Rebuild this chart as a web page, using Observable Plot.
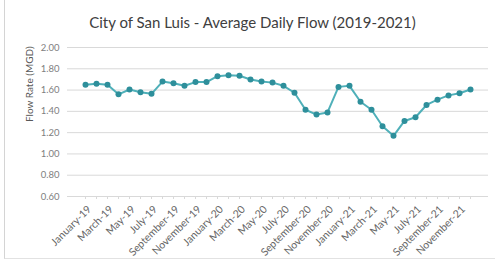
<!DOCTYPE html>
<html>
<head>
<meta charset="utf-8">
<script src="https://cdn.jsdelivr.net/npm/d3@7"></script>
<script src="https://cdn.jsdelivr.net/npm/@observablehq/plot@0.6"></script>
<style>
  html, body { margin: 0; padding: 0; background: #fff; }
  #wrap { position: relative; width: 495px; height: 264px; overflow: hidden; background: #fff; }
  #frame { position: absolute; left: 4px; top: 0; width: 491px; height: 259px; border-left: 1px solid #d4d4d4; border-bottom: 1px solid #e2e2e2; box-sizing: border-box; }
  #title { position: absolute; left: 0; top: 12px; width: 495px; text-align: center; font-family: Lato, "Open Sans", sans-serif; font-size: 15px; color: #404040; line-height: 20px; padding-left: 10px; box-sizing: border-box; }
  #chart { position: absolute; left: 0; top: 38px; }
</style>
</head>
<body>
<div id="wrap">
  <div id="frame"></div>
  <div id="title">City of San Luis - Average Daily Flow (2019-2021)</div>
  <div id="chart"></div>
</div>
<script>
const months = [
  "January-19","February-19","March-19","April-19","May-19","June-19","July-19","August-19","September-19","October-19","November-19","December-19",
  "January-20","February-20","March-20","April-20","May-20","June-20","July-20","August-20","September-20","October-20","November-20","December-20",
  "January-21","February-21","March-21","April-21","May-21","June-21","July-21","August-21","September-21","October-21","November-21","December-21"
];
const flow = [
  1.65, 1.66, 1.65, 1.56, 1.605, 1.58, 1.565, 1.68, 1.665, 1.64, 1.675, 1.675,
  1.73, 1.74, 1.735, 1.70, 1.68, 1.67, 1.64, 1.575, 1.415, 1.37, 1.39, 1.63,
  1.64, 1.49, 1.415, 1.26, 1.17, 1.31, 1.345, 1.46, 1.51, 1.55, 1.57, 1.605
];
const yTicks = [0.6, 0.8, 1.0, 1.2, 1.4, 1.6, 1.8, 2.0];
const xLabels = months.filter((d, i) => i % 2 === 0);
const yTitle = "Flow Rate (MGD)";

const data = months.map((m, i) => ({month: m, flow: flow[i]}));

const chart = Plot.plot({
  width: 495,
  height: 226,
  marginTop: 9,
  marginBottom: 68,
  marginLeft: 67,
  marginRight: 7,
  style: {fontFamily: "Lato, 'Open Sans', sans-serif", fontSize: "9.5px", color: "#808080", background: "transparent"},
  x: {type: "point", domain: months, padding: 0.5},
  y: {domain: [0.6, 2.0]},
  marks: [
    Plot.gridY(yTicks, {stroke: "#d9d9d9", strokeOpacity: 1, strokeWidth: 1}),
    Plot.axisY(yTicks, {tickSize: 0, tickPadding: 8, tickFormat: d => d.toFixed(2), label: null, fill: "#808080"}),
    Plot.text([yTitle], {frameAnchor: "left", dx: -38, rotate: -90, fill: "#595959", fontSize: 10}),
    Plot.axisX(months, {tickSize: 3, tickFormat: () => "", stroke: "#d9d9d9", label: null}),
    Plot.axisX(xLabels, {tickRotate: -45, tickSize: 0, tickPadding: 11, dx: 4, label: null, fill: "#666666", fontSize: 10.5}),
    Plot.line(data, {x: "month", y: "flow", stroke: "#4fb0b9", strokeWidth: 2}),
    Plot.dot(data, {x: "month", y: "flow", r: 3, fill: "#2e8f9b", stroke: "none"})
  ]
});
document.getElementById("chart").appendChild(chart);
</script>
</body>
</html>
